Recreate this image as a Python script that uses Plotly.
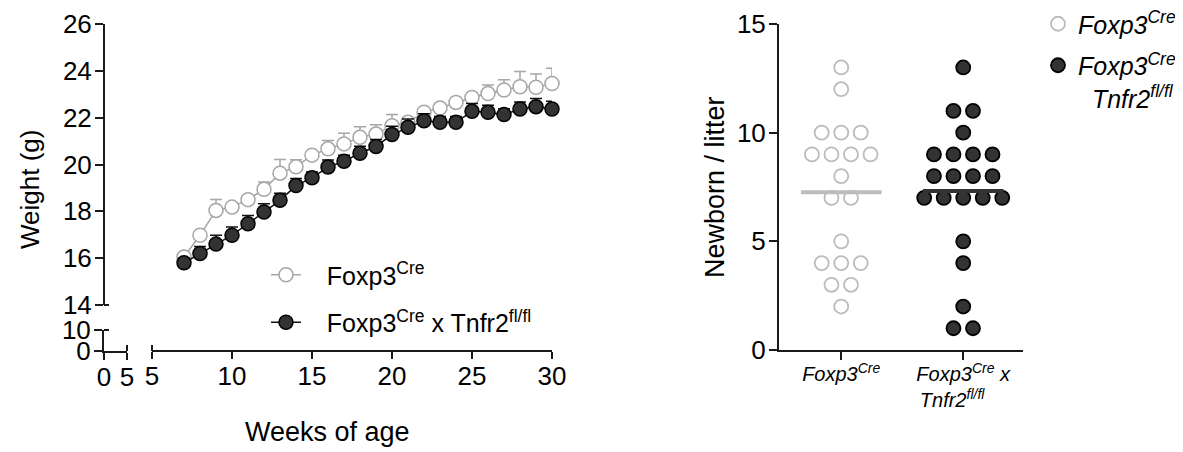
import numpy as np
import plotly.graph_objects as go

# page is 1183x452; the html body adds an 8px margin, so the figure is sized to fit inside it
OFF = 8
W, H = 1183 - OFF, 452 - OFF

# ---------------- data ----------------
weeks = list(range(7, 31))
cre_weight = [16.05, 16.98, 18.04, 18.18, 18.5, 18.94, 19.63, 19.9, 20.4, 20.67, 20.88, 21.16,
              21.3, 21.66, 21.8, 22.23, 22.41, 22.65, 22.86, 23.03, 23.18, 23.32, 23.3, 23.46]
cre_weight_err = [0.1, 0.15, 0.47, 0.1, 0.1, 0.31, 0.58, 0.3, 0.15, 0.35, 0.45, 0.45,
                  0.4, 0.47, 0.2, 0.15, 0.1, 0.1, 0.2, 0.37, 0.44, 0.65, 0.57, 0.65]
ko_weight = [15.8, 16.2, 16.6, 16.98, 17.47, 17.97, 18.47, 19.1, 19.43, 19.89, 20.14, 20.48,
             20.77, 21.28, 21.59, 21.87, 21.8, 21.8, 22.27, 22.23, 22.13, 22.37, 22.47, 22.37]
ko_weight_err = [0.2, 0.3, 0.38, 0.35, 0.35, 0.35, 0.3, 0.3, 0.25, 0.3, 0.25, 0.3,
                 0.3, 0.35, 0.35, 0.3, 0.25, 0.25, 0.33, 0.3, 0.25, 0.3, 0.35, 0.33]

group_labels = ["<i>Foxp3<sup>Cre</sup></i>",
                "<i>Foxp3<sup>Cre</sup> x</i><br><i>Tnfr2<sup>fl/fl</sup></i>&nbsp;&nbsp;&nbsp;&nbsp;"]
cre_litter = [13, 12, 10, 10, 10, 9, 9, 9, 9, 8, 7, 7, 5, 4, 4, 4, 3, 3, 2]
ko_litter = [13, 11, 11, 10, 9, 9, 9, 9, 8, 8, 8, 8, 7, 7, 7, 7, 7, 5, 4, 2, 1, 1]

left_ticks_upper = [14, 16, 18, 20, 22, 24, 26]
left_ticks_lower = [0, 10]
left_xticks_main = [5, 10, 15, 20, 25, 30]
left_xticks_small = [0, 5]
right_yticks = [0, 5, 10, 15]

# ---------------- styling ----------------
FONT = "Arial, Liberation Sans, Helvetica, sans-serif"
AX = "#1a1a1a"
OPEN_LINE = "#a6a6a6"
OPEN_DOT = "#bcbcbc"
DARK = "#333333"
NB = "&nbsp;"


def px_x(p):
    return (p - OFF) / W


def px_y(p):
    return 1 - (p - OFF) / H


def swarm(values, center, step=0.16):
    vals = np.asarray(values, dtype=float)
    xs = np.zeros_like(vals)
    for v in np.unique(vals):
        idx = np.where(vals == v)[0]
        k = len(idx)
        xs[idx] = center + (np.arange(k) - (k - 1) / 2) * step
    return xs


fig = go.Figure()

# left: growth curves
fig.add_trace(go.Scatter(
    x=weeks, y=cre_weight, mode="lines+markers", name=NB * 3 + "Foxp3<sup>Cre</sup>",
    line=dict(color=OPEN_LINE, width=1.5),
    marker=dict(symbol="circle", size=14, color="white", line=dict(color=OPEN_LINE, width=1.5)),
    error_y=dict(type="data", symmetric=False, array=cre_weight_err,
                 arrayminus=[0] * len(cre_weight_err), color=OPEN_LINE, thickness=1.5, width=6),
    xaxis="x", yaxis="y", cliponaxis=False, legend="legend", legendgroup="a"))
fig.add_trace(go.Scatter(
    x=weeks, y=ko_weight, mode="lines+markers",
    name=NB * 3 + "Foxp3<sup>Cre</sup> x Tnfr2<sup>fl/fl</sup>",
    line=dict(color="#111111", width=1.5),
    marker=dict(symbol="circle", size=14, color=DARK, line=dict(color="#000000", width=1.5)),
    error_y=dict(type="data", symmetric=False, array=ko_weight_err,
                 arrayminus=[0] * len(ko_weight_err), color="#111111", thickness=1.5, width=6),
    xaxis="x", yaxis="y", cliponaxis=False, legend="legend", legendgroup="b"))
# empty trace so the short broken-axis segment is drawn
fig.add_trace(go.Scatter(x=[], y=[], xaxis="x2", yaxis="y2", showlegend=False, hoverinfo="skip"))

# right: litter size dot plot
for vals, center, fill, edge, lname, lg in [
        (cre_litter, 0, "white", OPEN_DOT, "<i>Foxp3<sup>Cre</sup></i>", "c"),
        (ko_litter, 1, DARK, "#000000",
         "<i>Foxp3<sup>Cre</sup></i><br>" + NB * 2 + "<i>Tnfr2<sup>fl/fl</sup></i>", "d")]:
    fig.add_trace(go.Scatter(
        x=swarm(vals, center), y=vals, mode="markers", name=lname,
        marker=dict(symbol="circle", size=14, color=fill, line=dict(color=edge, width=1.8)),
        xaxis="x3", yaxis="y3", cliponaxis=False, legend="legend2", legendgroup=lg))
    m = float(np.mean(vals))
    fig.add_trace(go.Scatter(
        x=[center - 0.33, center + 0.33], y=[m, m], mode="lines",
        line=dict(color=(OPEN_DOT if center == 0 else DARK), width=4),
        xaxis="x3", yaxis="y3", showlegend=False, hoverinfo="skip"))

axis_common = dict(showline=True, linecolor=AX, linewidth=2, ticks="outside", tickwidth=2,
                   tickcolor=AX, showgrid=False, zeroline=False,
                   tickfont=dict(family=FONT, size=26, color="#000"))

fig.update_layout(
    width=W, height=H, margin=dict(l=0, r=0, t=0, b=0, autoexpand=False),
    paper_bgcolor="white", plot_bgcolor="white",
    font=dict(family=FONT, color="#000"),
    xaxis=dict(domain=[px_x(152), px_x(552)], range=[5, 30], anchor="free", position=px_y(351),
               tickvals=left_xticks_main, ticklen=7, ticklabelstandoff=-5, **axis_common),
    xaxis2=dict(domain=[px_x(104), px_x(127)], range=[0, 5], anchor="y2",
                tickvals=left_xticks_small, ticklen=7, ticklabelstandoff=-5, **axis_common),
    yaxis=dict(domain=[px_y(305), px_y(24)], range=[14, 26], anchor="free", position=px_x(104),
               tickvals=left_ticks_upper, ticklen=8, ticklabelstandoff=-2, **axis_common),
    yaxis2=dict(domain=[px_y(351), px_y(330)], range=[0, 10], anchor="x2",
                tickvals=left_ticks_lower, ticklen=8, ticklabelstandoff=-2, **axis_common),
    xaxis3=dict(domain=[px_x(779), px_x(1023)], range=[-0.51, 1.49], anchor="y3",
                tickvals=[0, 1], ticktext=group_labels, ticklen=8, ticklabelstandoff=-3,
                **{**axis_common, "tickfont": dict(family=FONT, size=20, color="#000")}),
    yaxis3=dict(domain=[px_y(350), px_y(24)], range=[0, 15], anchor="x3",
                tickvals=right_yticks, ticklen=8, ticklabelstandoff=-2, **axis_common),
    legend=dict(x=px_x(266), y=px_y(252), xanchor="left", yanchor="top",
                font=dict(family=FONT, size=25, color="#000"), bgcolor="rgba(0,0,0,0)",
                tracegroupgap=12),
    legend2=dict(x=px_x(1038), y=px_y(1), xanchor="left", yanchor="top", valign="top",
                 font=dict(family=FONT, size=25, color="#000"), bgcolor="rgba(0,0,0,0)",
                 tracegroupgap=6),
    showlegend=True,
)

# axis titles
fig.add_annotation(text="Weight (g)", x=px_x(30), y=px_y(190), xref="paper", yref="paper",
                   xanchor="center", yanchor="middle",
                   textangle=-90, showarrow=False, font=dict(family=FONT, size=26, color="#000"))
fig.add_annotation(text="Weeks of age", x=px_x(327), y=px_y(432), xref="paper", yref="paper",
                   xanchor="center", yanchor="middle",
                   showarrow=False, font=dict(family=FONT, size=27, color="#000"))
fig.add_annotation(text="Newborn / litter", x=px_x(715), y=px_y(187), xref="paper", yref="paper",
                   xanchor="center", yanchor="middle",
                   textangle=-90, showarrow=False, font=dict(family=FONT, size=27, color="#000"))

# axis-break end caps (ticks crossing the axis line at segment ends)
for yb in (305, 330):
    fig.add_shape(type="line", xref="paper", yref="paper", x0=px_x(104), x1=px_x(109),
                  y0=px_y(yb), y1=px_y(yb), line=dict(color=AX, width=2))
for xb in (127, 152):
    fig.add_shape(type="line", xref="paper", yref="paper", x0=px_x(xb), x1=px_x(xb),
                  y0=px_y(351), y1=px_y(345), line=dict(color=AX, width=2))

fig.write_html("out.html")
